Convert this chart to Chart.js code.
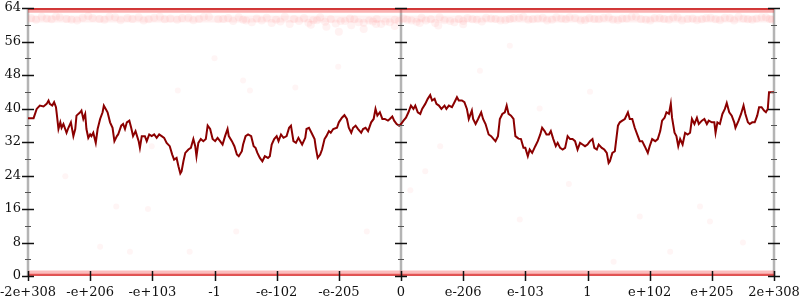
<!DOCTYPE html>
<html>
<head>
<meta charset="utf-8">
<script src="https://cdn.jsdelivr.net/npm/chart.js@4.4.1/dist/chart.umd.min.js"></script>
<style>
  html, body { margin: 0; padding: 0; background: #ffffff; }
  #wrap { width: 800px; height: 300px; }
</style>
</head>
<body>
<div id="wrap"><canvas id="c" width="800" height="300"></canvas></div>
<script>
// ---- data ----
const xTickLabels = ['-2e+308','-e+206','-e+103','-1','-e-102','-e-205','0','e-206','e-103','1','e+102','e+205','2e+308'];
const yTicks = [0, 8, 16, 24, 32, 40, 48, 56, 64];

const lineX = [0,9,14,19,25,30,33,35,39,42,45,46,49,52,54,57,62,65,69,73,76,78,84,86,89,92,94,97,100,102,105,109,112,116,120,122,125,128,132,136,139,143,145,150,153,156,159,163,166,169,173,178,180,183,188,191,195,199,203,207,211,215,219,223,228,232,235,239,242,245,247,250,253,258,262,266,269,271,274,278,282,286,289,293,297,301,305,309,313,317,321,323,328,332,336,339,344,346,350,354,359,363,366,369,373,377,381,386,389,392,396,400,403,407,411,416,420,423,427,431,435,438,441,446,448,452,456,461,463,466,470,473,477,480,484,487,491,497,500,505,509,513,516,520,523,527,531,536,539,543,547,552,556,559,562,566,570,574,579,582,586,589,593,597,600,604,608,612,616,620,623,627,631,634,639,643,647,650,654,657,661,665,670,673,677,682,686,690,693,698,702,706,709,714,716,720,724,729,732,736,741,745,749,752,756,759,763,767,770,773,777,781,784,789,793,797,800,804,807,811,816,820,824,827,831,834,838,841,845,849,852,856,860,864,868,872,876,880,884,888,892,896,900,904,908,911,915,918,923,927,931,934,936,940,944,949,952,956,960,965,968,972,976,981,984,988,992,997,1000,1004,1009,1013,1017,1020,1024,1027,1031,1034,1036,1040,1043,1046,1049,1053,1057,1061,1065,1068,1072,1076,1079,1084,1088,1092,1095,1100,1104,1106,1109,1113,1117,1121,1124,1128,1132,1136,1138,1143,1147,1151,1154,1158,1161,1165,1169,1173,1176,1180,1184,1187,1190,1192,1196,1200];
const lineY = [37.7,37.7,39.9,40.7,40.5,41.1,41.9,41.1,40.7,41.5,40.3,39.1,35.1,36.7,35.4,36.3,34.2,35.4,36.7,33.4,35.1,38.3,39.1,39.5,37.5,38.7,35.1,33.0,33.8,33.4,34.2,31.8,35.1,37.5,39.1,40.7,39.9,39.1,36.7,35.4,32.2,33.4,33.8,35.9,36.3,35.1,36.7,37.1,35.4,33.4,34.6,32.2,30.6,33.4,33.4,32.2,33.8,33.4,33.8,33.0,33.8,33.4,33.0,31.8,31.0,29.0,27.8,28.2,26.2,24.5,25.0,27.4,29.4,30.2,30.6,32.7,31.0,28.6,31.8,32.7,32.2,32.7,35.9,35.1,32.7,32.2,33.0,32.2,31.4,33.4,35.1,33.4,32.2,31.0,29.0,28.6,29.8,31.4,33.4,33.8,33.4,31.0,30.6,29.4,28.2,27.4,28.6,28.2,28.6,31.4,32.7,33.4,32.2,33.8,33.0,33.4,35.4,35.9,32.2,31.8,33.0,32.2,31.4,33.0,35.1,35.4,34.2,32.7,30.6,28.2,29.0,30.2,32.7,33.4,34.6,34.2,35.1,35.4,36.7,37.8,38.4,37.5,35.4,34.2,35.4,35.9,35.1,34.2,35.1,35.4,34.6,36.7,37.5,39.9,38.3,39.1,37.5,37.5,37.1,37.5,38.1,37.1,36.3,35.9,36.3,37.1,37.8,39.1,40.7,39.9,40.7,39.1,38.7,39.9,41.1,42.3,43.2,41.9,42.3,41.1,40.7,39.9,40.7,39.9,40.7,40.3,41.5,42.7,41.9,41.9,41.5,39.9,37.5,39.5,37.5,36.3,37.5,39.1,37.5,36.3,33.8,33.4,32.7,32.2,33.4,37.5,38.7,39.1,40.7,38.7,38.3,37.5,33.4,32.8,32.7,30.6,30.6,28.6,30.2,29.4,31.0,32.2,33.8,35.4,34.6,33.8,33.8,34.6,32.7,31.0,31.8,30.6,30.2,30.6,33.4,32.7,32.7,32.2,30.2,31.8,31.4,31.0,31.4,32.2,32.7,30.6,30.2,31.4,30.6,30.2,29.4,27.0,27.4,29.4,29.8,35.9,36.7,37.1,37.5,39.1,37.5,37.5,35.4,33.4,32.2,32.2,31.0,29.4,31.0,32.7,32.2,32.7,34.6,37.1,37.8,39.1,38.7,41.1,37.8,34.2,33.4,31.0,32.7,31.4,34.2,33.8,34.2,37.5,36.3,37.8,36.3,37.1,37.5,36.3,37.1,36.7,36.7,34.2,36.7,36.3,38.7,39.9,41.3,39.1,38.3,36.7,35.4,37.1,38.7,40.7,38.7,36.7,36.3,36.7,36.7,38.3,40.3,40.3,39.5,39.1,39.9,43.9,43.9,43.9];

// faint cloud just below the top
const cloudX = [5,22,38,51,70,88,97,115,131,149,160,178,194,212,229,240,258,275,291,306,322,339,351,368,384,399,413,428,444,459,470,487,503,518,532,549,561,575,590,604,617,633,648,662,679,693,707,722,737,752,768,781,797,812,828,843,858,871,889,903,918,934,949,963,978,994,1008,1023,1038,1052,1069,1084,1098,1113,1129,1143,1158,1172,1187,1197,455,480,520,560,590,630,660,700,500,540,
  13,30,45,62,79,104,123,140,168,186,203,220,248,266,283,314,330,346,360,376,392,406,421,436,451,465,478,495,510,525,540,555,568,582,597,610,625,640,655,670,686,700,715,730,745,760,775,790,805,820,835,850,865,880,896,911,926,941,956,971,986,1001,1016,1031,1045,1061,1076,1091,1106,1121,1136,1151,1165,1180,1193];
const cloudY = [61.6,61.9,61.3,61.8,61.2,61.7,62.1,61.4,61.9,61.1,61.6,61.8,61.3,61.9,61.5,61.2,61.7,61.4,61.9,61.3,61.6,61.8,61.0,61.5,61.7,61.2,61.9,61.4,61.6,61.1,61.8,61.3,60.9,61.5,60.6,61.0,61.4,60.8,61.2,61.5,61.0,61.7,61.3,61.8,60.9,61.4,61.6,61.2,61.7,61.4,61.1,61.6,61.9,61.3,61.7,61.2,61.5,61.8,61.0,61.6,61.3,61.8,61.1,61.5,61.9,61.2,61.6,61.4,61.8,61.0,61.5,61.3,61.7,61.1,61.6,61.9,61.3,61.5,61.8,61.2,60.0,59.5,59.9,60.2,59.7,60.4,59.8,60.1,58.3,59.0,
  61.2,61.5,62.0,61.4,61.0,61.6,61.2,61.8,61.4,61.0,61.7,61.3,61.6,61.1,61.9,61.4,60.9,61.2,60.6,61.0,60.4,60.8,60.2,60.9,60.5,61.1,60.7,60.3,60.9,61.3,60.5,60.8,60.2,60.6,60.9,61.2,60.7,61.0,60.4,61.1,60.6,60.9,61.3,60.8,61.5,61.0,61.4,61.7,61.2,61.5,61.0,61.8,61.3,61.6,61.1,61.4,61.7,61.2,61.5,61.9,61.3,61.0,61.6,61.2,61.8,61.4,61.1,61.6,61.3,61.7,61.0,61.5,61.2,61.8,61.4];

// sparse points in the middle
const sparseX = [499,346,357,241,199,823,904,545,193,142,116,164,260,335,663,639,615,791,1081,1097,1033,942,984,775,727,60,430,870,1150,300];
const sparseY = [50,46.7,44.3,44.3,31,40,44,10.6,16,16.6,7,5.8,5.8,10.6,31,25,20.5,13.5,16.6,13,5.8,3.4,14.2,55,49,23.8,45,22,8,52];

// dense bands at the extremes
const bandXs = [0, 1200];
const bandTopStrong = 63.75, bandTopSoft = 63.2, bandTopHaze = 61.4;
const bandBotStrong = 0.15, bandBotSoft = 0.85;

// ---- chart ----
const lineData = lineX.map((x, i) => ({ x: x, y: lineY[i] }));
const cloudData = cloudX.map((x, i) => ({ x: x, y: cloudY[i] }));
const sparseData = sparseX.map((x, i) => ({ x: x, y: sparseY[i] }));
const band = (y) => bandXs.map(x => ({ x: x, y: y }));

const axisPlugin = {
  id: 'axisPlugin',
  beforeDatasetsDraw(chart) {
    const ctx = chart.ctx, xs = chart.scales.x, ys = chart.scales.y;
    ctx.save();
    ctx.strokeStyle = '#b4b4b4';
    ctx.lineWidth = 2.5;
    [0, 600, 1200].forEach(v => {
      const px = Math.round(xs.getPixelForValue(v));
      ctx.beginPath();
      ctx.moveTo(px, ys.getPixelForValue(64));
      ctx.lineTo(px, ys.getPixelForValue(0));
      ctx.stroke();
    });
    ctx.restore();
  },
  afterDatasetsDraw(chart) {
    const ctx = chart.ctx, xs = chart.scales.x, ys = chart.scales.y;
    ctx.save();
    [0, 600, 1200].forEach(v => {
      const px = Math.round(xs.getPixelForValue(v));
      for (let t = 0; t <= 64; t += 4) {
        const py = Math.round(ys.getPixelForValue(t)) + 0.5;
        const major = t % 8 === 0;
        ctx.strokeStyle = major ? '#111' : '#555';
        ctx.lineWidth = major ? 1.5 : 1;
        const half = major ? 6 : 3;
        ctx.beginPath();
        ctx.moveTo(px - half, py);
        ctx.lineTo(px + half, py);
        ctx.stroke();
      }
    });
    const by = ys.getPixelForValue(0);
    ctx.strokeStyle = '#111';
    ctx.lineWidth = 1.5;
    for (let i = 0; i < xTickLabels.length; i++) {
      const px = Math.round(xs.getPixelForValue(i * 100)) + 0.5;
      ctx.beginPath();
      ctx.moveTo(px, by - 5);
      ctx.lineTo(px, by + 5);
      ctx.stroke();
    }
    ctx.restore();
  }
};

const font = { family: 'DejaVu Serif', size: 13 };
const hidden = { display: false, drawTicks: false };

new Chart(document.getElementById('c'), {
  type: 'scatter',
  data: {
    datasets: [
      { type: 'line', data: band(bandTopHaze), borderColor: 'rgba(255,130,130,0.12)', borderWidth: 7, pointRadius: 0 },
      { data: cloudData, backgroundColor: 'rgba(255,90,90,0.08)', borderWidth: 0, pointRadius: 4 },
      { data: sparseData, backgroundColor: 'rgba(255,90,90,0.06)', borderWidth: 0, pointRadius: 3 },
      { type: 'line', data: band(bandTopSoft), borderColor: 'rgba(240,60,60,0.40)', borderWidth: 3, pointRadius: 0 },
      { type: 'line', data: band(bandTopStrong), borderColor: 'rgba(200,20,20,0.85)', borderWidth: 2, pointRadius: 0 },
      { type: 'line', data: band(bandBotSoft), borderColor: 'rgba(245,90,90,0.40)', borderWidth: 4, pointRadius: 0 },
      { type: 'line', data: band(bandBotStrong), borderColor: 'rgba(215,40,40,0.80)', borderWidth: 3, pointRadius: 0 },
      { type: 'line', data: lineData, borderColor: '#8b0000', borderWidth: 2, pointRadius: 0, tension: 0, fill: false }
    ]
  },
  options: {
    responsive: false,
    animation: false,
    devicePixelRatio: 1,
    layout: { padding: 0 },
    plugins: { legend: { display: false }, tooltip: { enabled: false } },
    scales: {
      x: {
        type: 'linear', min: 0, max: 1200, position: 'bottom',
        grid: hidden, border: { display: false },
        afterFit: (s) => { s.height = 24; s.paddingLeft = 0; s.paddingRight = 0; },
        ticks: {
          stepSize: 100, autoSkip: false, maxRotation: 0, minRotation: 0,
          padding: 9, color: '#111', font: font,
          callback: (v) => xTickLabels[Math.round(v / 100)]
        }
      },
      xTop: {
        type: 'linear', position: 'top', min: 0, max: 1200,
        grid: hidden, border: { display: false }, ticks: { display: false },
        afterFit: (s) => { s.height = 8; s.paddingLeft = 0; s.paddingRight = 0; }
      },
      y: {
        type: 'linear', min: 0, max: 64, position: 'left',
        grid: hidden, border: { display: false },
        afterFit: (s) => { s.width = 28; s.paddingTop = 0; s.paddingBottom = 0; },
        afterBuildTicks: (s) => { s.ticks = yTicks.map(v => ({ value: v })); },
        ticks: { padding: 7, color: '#111', font: font }
      },
      yRight: {
        type: 'linear', position: 'right', min: 0, max: 64,
        grid: hidden, border: { display: false }, ticks: { display: false },
        afterFit: (s) => { s.width = 26; s.paddingTop = 0; s.paddingBottom = 0; }
      }
    }
  },
  plugins: [axisPlugin]
});
</script>
</body>
</html>
